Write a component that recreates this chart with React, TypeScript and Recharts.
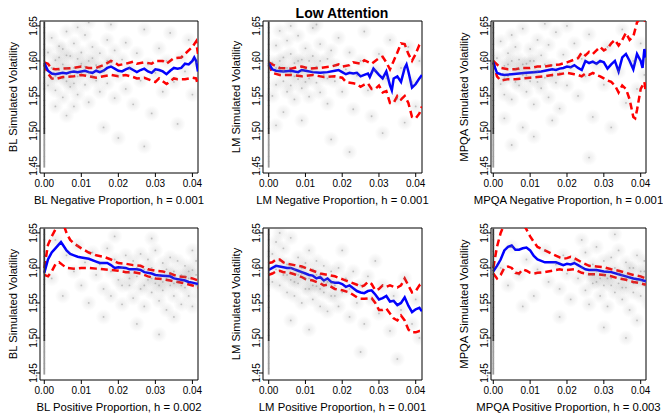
import React from 'react';
import {
  ComposedChart,
  Line,
  Scatter,
  XAxis,
  YAxis,
  ReferenceArea
} from 'recharts';

type Pt = [number, number];

const xTicks = [0, 0.01, 0.02, 0.03, 0.04];
const yTicks = [1.45, 1.5, 1.55, 1.6, 1.65];
const yDomain: [number, number] = [1.44, 1.657];

// points stacked at x = 0 (shown as a dark column)
const zeroDenseY = [1.5, 1.508, 1.516, 1.524, 1.532, 1.54, 1.548, 1.556, 1.564, 1.572, 1.58, 1.588, 1.596, 1.604, 1.612, 1.62, 1.628, 1.636, 1.644, 1.652];
const zeroSparseY = [1.452, 1.46, 1.468, 1.476, 1.484, 1.492];

// ---- scatter clouds ----
const blNegCloud: Pt[] = [
  [0.001, 1.612], [0.002, 1.575], [0.002, 1.633], [0.003, 1.558], [0.003, 1.601], [0.004, 1.587], [0.004, 1.621],
  [0.005, 1.548], [0.005, 1.595], [0.006, 1.571], [0.006, 1.642], [0.007, 1.607], [0.007, 1.563], [0.008, 1.59],
  [0.008, 1.625], [0.009, 1.552], [0.009, 1.578], [0.01, 1.612], [0.01, 1.596], [0.011, 1.566], [0.011, 1.637],
  [0.012, 1.583], [0.012, 1.541], [0.013, 1.604], [0.013, 1.62], [0.014, 1.572], [0.014, 1.594], [0.015, 1.556],
  [0.015, 1.611], [0.016, 1.585], [0.017, 1.63], [0.017, 1.568], [0.018, 1.598], [0.019, 1.547], [0.019, 1.615],
  [0.02, 1.579], [0.021, 1.602], [0.022, 1.56], [0.022, 1.626], [0.023, 1.59], [0.024, 1.538], [0.025, 1.611],
  [0.026, 1.572], [0.027, 1.645], [0.028, 1.595], [0.029, 1.525], [0.03, 1.583], [0.031, 1.618], [0.032, 1.556],
  [0.033, 1.6], [0.034, 1.64], [0.035, 1.57], [0.036, 1.51], [0.037, 1.605], [0.038, 1.585], [0.039, 1.63],
  [0.04, 1.552], [0.041, 1.598], [0.006, 1.522], [0.012, 1.655], [0.003, 1.535], [0.016, 1.505], [0.009, 1.648],
  [0.002, 1.59], [0.001, 1.565], [0.02, 1.49], [0.027, 1.478], [0.018, 1.652], [0.008, 1.535], [0.005, 1.617],
  [0.004, 1.605], [0.006, 1.59], [0.007, 1.582], [0.009, 1.603], [0.011, 1.592], [0.013, 1.578], [0.003, 1.578],
  [0.005, 1.575], [0.008, 1.568], [0.01, 1.583], [0.012, 1.6], [0.015, 1.59], [0.017, 1.6], [0.006, 1.608]
];
const lmNegCloud: Pt[] = [
  [0.001, 1.598], [0.001, 1.55], [0.002, 1.622], [0.002, 1.566], [0.003, 1.588], [0.003, 1.643], [0.004, 1.571],
  [0.004, 1.605], [0.005, 1.556], [0.005, 1.629], [0.006, 1.583], [0.006, 1.61], [0.007, 1.545], [0.007, 1.597],
  [0.008, 1.574], [0.008, 1.636], [0.009, 1.602], [0.009, 1.561], [0.01, 1.588], [0.01, 1.618], [0.011, 1.549],
  [0.011, 1.575], [0.012, 1.607], [0.012, 1.647], [0.013, 1.569], [0.013, 1.592], [0.014, 1.624], [0.014, 1.555],
  [0.015, 1.58], [0.016, 1.603], [0.016, 1.539], [0.017, 1.615], [0.018, 1.571], [0.018, 1.594], [0.019, 1.633],
  [0.02, 1.556], [0.021, 1.588], [0.022, 1.612], [0.023, 1.531], [0.024, 1.579], [0.025, 1.6], [0.026, 1.642],
  [0.027, 1.558], [0.028, 1.521], [0.029, 1.587], [0.03, 1.61], [0.031, 1.497], [0.032, 1.575], [0.033, 1.63],
  [0.035, 1.546], [0.036, 1.59], [0.037, 1.512], [0.038, 1.62], [0.039, 1.57], [0.04, 1.535], [0.041, 1.6],
  [0.004, 1.527], [0.009, 1.515], [0.013, 1.652], [0.002, 1.508], [0.017, 1.488], [0.006, 1.65], [0.022, 1.47],
  [0.003, 1.6], [0.005, 1.59], [0.007, 1.578], [0.008, 1.6], [0.01, 1.57], [0.011, 1.6], [0.004, 1.585],
  [0.006, 1.565], [0.009, 1.585], [0.012, 1.585], [0.014, 1.6], [0.016, 1.575], [0.002, 1.59]
];
const mpqaNegCloud: Pt[] = [
  [0.001, 1.604], [0.002, 1.567], [0.002, 1.628], [0.003, 1.552], [0.003, 1.593], [0.004, 1.611], [0.004, 1.578],
  [0.005, 1.637], [0.005, 1.545], [0.006, 1.589], [0.006, 1.62], [0.007, 1.565], [0.007, 1.602], [0.008, 1.58],
  [0.008, 1.646], [0.009, 1.556], [0.009, 1.596], [0.01, 1.617], [0.01, 1.571], [0.011, 1.538], [0.011, 1.6],
  [0.012, 1.585], [0.012, 1.63], [0.013, 1.561], [0.013, 1.608], [0.014, 1.576], [0.015, 1.623], [0.015, 1.548],
  [0.016, 1.594], [0.017, 1.569], [0.017, 1.641], [0.018, 1.583], [0.018, 1.532], [0.019, 1.609], [0.02, 1.565],
  [0.021, 1.59], [0.022, 1.625], [0.023, 1.55], [0.024, 1.603], [0.025, 1.578], [0.026, 1.638], [0.027, 1.52],
  [0.028, 1.595], [0.03, 1.566], [0.031, 1.62], [0.032, 1.505], [0.034, 1.585], [0.035, 1.645], [0.036, 1.54],
  [0.038, 1.6], [0.039, 1.56], [0.04, 1.625], [0.041, 1.58], [0.003, 1.518], [0.008, 1.505], [0.014, 1.653],
  [0.005, 1.48], [0.011, 1.492], [0.02, 1.65], [0.026, 1.462], [0.016, 1.515],
  [0.003, 1.575], [0.005, 1.6], [0.006, 1.57], [0.008, 1.595], [0.009, 1.58], [0.011, 1.585], [0.007, 1.588],
  [0.004, 1.595], [0.01, 1.6], [0.012, 1.57], [0.014, 1.595], [0.016, 1.578]
];
const blPosCloud: Pt[] = [
  [0.002, 1.585], [0.003, 1.64], [0.005, 1.56], [0.006, 1.618], [0.008, 1.595], [0.009, 1.632], [0.01, 1.575],
  [0.011, 1.608], [0.012, 1.55], [0.013, 1.622], [0.014, 1.59], [0.015, 1.605], [0.016, 1.57], [0.017, 1.628],
  [0.018, 1.595], [0.018, 1.56], [0.019, 1.612], [0.02, 1.583], [0.021, 1.6], [0.021, 1.548], [0.022, 1.618],
  [0.023, 1.575], [0.023, 1.593], [0.024, 1.61], [0.024, 1.557], [0.025, 1.588], [0.026, 1.62], [0.026, 1.57],
  [0.027, 1.598], [0.027, 1.545], [0.028, 1.583], [0.028, 1.612], [0.029, 1.565], [0.029, 1.6], [0.03, 1.578],
  [0.03, 1.625], [0.031, 1.553], [0.031, 1.59], [0.032, 1.607], [0.032, 1.568], [0.033, 1.585], [0.033, 1.54],
  [0.034, 1.615], [0.034, 1.575], [0.035, 1.595], [0.035, 1.56], [0.036, 1.58], [0.036, 1.61], [0.037, 1.548],
  [0.037, 1.59], [0.038, 1.572], [0.038, 1.603], [0.039, 1.56], [0.039, 1.585], [0.04, 1.597], [0.04, 1.545],
  [0.041, 1.575], [0.041, 1.61], [0.042, 1.56], [0.025, 1.52], [0.031, 1.505], [0.019, 1.645], [0.035, 1.53],
  [0.029, 1.642], [0.04, 1.625], [0.016, 1.53],
  [0.025, 1.6], [0.027, 1.575], [0.029, 1.585], [0.031, 1.575], [0.033, 1.598], [0.035, 1.578], [0.037, 1.575],
  [0.039, 1.595], [0.041, 1.59], [0.023, 1.585], [0.021, 1.575], [0.038, 1.588], [0.034, 1.59], [0.032, 1.58]
];
const lmPosCloud: Pt[] = [
  [0.001, 1.62], [0.001, 1.58], [0.002, 1.598], [0.002, 1.637], [0.003, 1.575], [0.003, 1.61], [0.004, 1.59],
  [0.004, 1.628], [0.005, 1.565], [0.005, 1.605], [0.006, 1.583], [0.006, 1.643], [0.007, 1.598], [0.007, 1.56],
  [0.008, 1.615], [0.008, 1.578], [0.009, 1.592], [0.009, 1.55], [0.01, 1.607], [0.01, 1.57], [0.011, 1.585],
  [0.011, 1.625], [0.012, 1.555], [0.012, 1.598], [0.013, 1.574], [0.013, 1.61], [0.014, 1.545], [0.014, 1.588],
  [0.015, 1.565], [0.015, 1.603], [0.016, 1.58], [0.016, 1.538], [0.017, 1.595], [0.017, 1.56], [0.018, 1.575],
  [0.019, 1.545], [0.019, 1.6], [0.02, 1.565], [0.021, 1.585], [0.022, 1.53], [0.022, 1.57], [0.023, 1.595],
  [0.024, 1.55], [0.025, 1.575], [0.026, 1.52], [0.027, 1.588], [0.028, 1.555], [0.03, 1.535], [0.031, 1.575],
  [0.033, 1.51], [0.034, 1.56], [0.036, 1.54], [0.037, 1.585], [0.039, 1.52], [0.04, 1.555], [0.041, 1.5],
  [0.003, 1.65], [0.006, 1.525], [0.011, 1.512], [0.02, 1.625], [0.025, 1.48], [0.029, 1.61], [0.035, 1.47],
  [0.005, 1.59], [0.007, 1.58], [0.009, 1.6], [0.011, 1.57], [0.013, 1.59], [0.015, 1.58], [0.017, 1.578],
  [0.006, 1.6], [0.008, 1.59], [0.01, 1.585], [0.012, 1.575], [0.014, 1.57], [0.018, 1.56]
];
const mpqaPosCloud: Pt[] = [
  [0.002, 1.6], [0.004, 1.575], [0.005, 1.63], [0.007, 1.59], [0.009, 1.612], [0.011, 1.56], [0.012, 1.598],
  [0.014, 1.625], [0.015, 1.58], [0.017, 1.605], [0.018, 1.57], [0.019, 1.618], [0.02, 1.592], [0.021, 1.555],
  [0.022, 1.61], [0.023, 1.585], [0.024, 1.6], [0.025, 1.568], [0.025, 1.622], [0.026, 1.59], [0.026, 1.548],
  [0.027, 1.605], [0.027, 1.578], [0.028, 1.595], [0.028, 1.63], [0.029, 1.56], [0.029, 1.585], [0.03, 1.61],
  [0.03, 1.575], [0.031, 1.596], [0.031, 1.545], [0.032, 1.585], [0.032, 1.615], [0.033, 1.565], [0.033, 1.6],
  [0.034, 1.578], [0.034, 1.625], [0.035, 1.59], [0.035, 1.555], [0.036, 1.608], [0.036, 1.572], [0.037, 1.588],
  [0.037, 1.54], [0.038, 1.6], [0.038, 1.565], [0.039, 1.582], [0.039, 1.618], [0.04, 1.56], [0.04, 1.595],
  [0.041, 1.575], [0.041, 1.61], [0.042, 1.585], [0.042, 1.55], [0.03, 1.515], [0.036, 1.5], [0.024, 1.64],
  [0.033, 1.648], [0.039, 1.525], [0.018, 1.53], [0.008, 1.545],
  [0.028, 1.58], [0.03, 1.59], [0.032, 1.575], [0.034, 1.592], [0.036, 1.585], [0.038, 1.578], [0.04, 1.582],
  [0.041, 1.595], [0.035, 1.572], [0.031, 1.585], [0.027, 1.59], [0.037, 1.6]
];

// ---- fitted lines (blue) and confidence bands (red dashed) ----
const blNegFit: Pt[] = [
  [0, 1.597], [0.001, 1.586], [0.002, 1.582], [0.003, 1.581], [0.004, 1.582], [0.005, 1.583], [0.006, 1.582],
  [0.007, 1.584], [0.008, 1.585], [0.009, 1.584], [0.01, 1.585], [0.011, 1.586], [0.012, 1.584], [0.013, 1.583],
  [0.014, 1.586], [0.015, 1.584], [0.016, 1.586], [0.017, 1.59], [0.018, 1.592], [0.019, 1.589], [0.02, 1.586],
  [0.021, 1.585], [0.022, 1.588], [0.023, 1.59], [0.024, 1.587], [0.025, 1.584], [0.026, 1.587], [0.027, 1.589],
  [0.028, 1.585], [0.029, 1.583], [0.03, 1.588], [0.031, 1.587], [0.032, 1.585], [0.033, 1.581], [0.034, 1.586],
  [0.035, 1.59], [0.036, 1.589], [0.037, 1.59], [0.038, 1.596], [0.039, 1.595], [0.04, 1.6], [0.0405, 1.605],
  [0.041, 1.6], [0.0415, 1.585]
];
const blNegUpper: Pt[] = [
  [0, 1.598], [0.001, 1.596], [0.002, 1.589], [0.003, 1.588], [0.005, 1.589], [0.008, 1.59], [0.01, 1.592],
  [0.012, 1.59], [0.014, 1.59], [0.016, 1.594], [0.018, 1.6], [0.019, 1.598], [0.02, 1.594], [0.022, 1.596],
  [0.024, 1.599], [0.025, 1.596], [0.027, 1.598], [0.029, 1.596], [0.03, 1.6], [0.032, 1.6], [0.033, 1.596],
  [0.035, 1.604], [0.037, 1.605], [0.038, 1.61], [0.04, 1.62], [0.041, 1.628], [0.0415, 1.61]
];
const blNegLower: Pt[] = [
  [0, 1.595], [0.001, 1.582], [0.002, 1.575], [0.003, 1.574], [0.005, 1.577], [0.008, 1.578], [0.01, 1.58],
  [0.012, 1.578], [0.014, 1.576], [0.016, 1.578], [0.018, 1.58], [0.02, 1.578], [0.022, 1.58], [0.024, 1.577],
  [0.025, 1.575], [0.027, 1.576], [0.029, 1.572], [0.03, 1.57], [0.031, 1.575], [0.033, 1.567], [0.034, 1.571],
  [0.035, 1.575], [0.036, 1.574], [0.038, 1.574], [0.04, 1.576], [0.041, 1.575], [0.0415, 1.565]
];

const lmNegFit: Pt[] = [
  [0, 1.597], [0.001, 1.588], [0.002, 1.586], [0.004, 1.585], [0.006, 1.586], [0.008, 1.584], [0.009, 1.587],
  [0.01, 1.586], [0.012, 1.584], [0.014, 1.583], [0.016, 1.584], [0.018, 1.586], [0.019, 1.587], [0.02, 1.584],
  [0.021, 1.581], [0.022, 1.583], [0.023, 1.582], [0.024, 1.583], [0.025, 1.578], [0.026, 1.58], [0.027, 1.582],
  [0.0275, 1.577], [0.0285, 1.589], [0.03, 1.58], [0.031, 1.575], [0.032, 1.585], [0.033, 1.565], [0.0335, 1.558],
  [0.034, 1.575], [0.035, 1.578], [0.036, 1.57], [0.037, 1.59], [0.0375, 1.595], [0.038, 1.585], [0.039, 1.562],
  [0.04, 1.567], [0.041, 1.575], [0.0417, 1.58]
];
const lmNegUpper: Pt[] = [
  [0, 1.598], [0.001, 1.595], [0.003, 1.59], [0.006, 1.589], [0.009, 1.592], [0.011, 1.589], [0.014, 1.59],
  [0.017, 1.592], [0.019, 1.595], [0.02, 1.592], [0.022, 1.594], [0.023, 1.598], [0.025, 1.596], [0.026, 1.601],
  [0.028, 1.596], [0.03, 1.604], [0.031, 1.606], [0.032, 1.598], [0.033, 1.588], [0.034, 1.6], [0.035, 1.612],
  [0.036, 1.625], [0.037, 1.624], [0.038, 1.61], [0.039, 1.6], [0.04, 1.61], [0.041, 1.623], [0.0417, 1.625]
];
const lmNegLower: Pt[] = [
  [0, 1.595], [0.001, 1.583], [0.003, 1.58], [0.006, 1.58], [0.009, 1.578], [0.012, 1.58], [0.015, 1.577],
  [0.018, 1.578], [0.02, 1.576], [0.021, 1.57], [0.023, 1.568], [0.024, 1.567], [0.025, 1.563], [0.026, 1.566],
  [0.027, 1.568], [0.028, 1.56], [0.029, 1.56], [0.03, 1.565], [0.031, 1.555], [0.032, 1.557], [0.033, 1.54],
  [0.034, 1.54], [0.035, 1.55], [0.036, 1.545], [0.037, 1.55], [0.038, 1.54], [0.039, 1.52], [0.04, 1.518],
  [0.041, 1.525], [0.0417, 1.535]
];

const mpqaNegFit: Pt[] = [
  [0, 1.598], [0.0005, 1.59], [0.001, 1.583], [0.002, 1.581], [0.003, 1.58], [0.005, 1.581], [0.007, 1.582],
  [0.009, 1.583], [0.011, 1.584], [0.013, 1.585], [0.015, 1.587], [0.016, 1.588], [0.017, 1.587], [0.018, 1.589],
  [0.019, 1.59], [0.02, 1.592], [0.021, 1.591], [0.022, 1.594], [0.023, 1.59], [0.024, 1.587], [0.025, 1.6],
  [0.026, 1.597], [0.027, 1.599], [0.028, 1.596], [0.029, 1.6], [0.03, 1.598], [0.031, 1.589], [0.032, 1.595],
  [0.033, 1.6], [0.034, 1.585], [0.035, 1.605], [0.036, 1.61], [0.037, 1.6], [0.038, 1.588], [0.039, 1.61],
  [0.04, 1.6], [0.0405, 1.59], [0.041, 1.617], [0.0414, 1.605]
];
const mpqaNegUpper: Pt[] = [
  [0, 1.6], [0.001, 1.595], [0.002, 1.59], [0.004, 1.588], [0.006, 1.588], [0.008, 1.59], [0.01, 1.59],
  [0.012, 1.592], [0.014, 1.592], [0.016, 1.594], [0.018, 1.595], [0.02, 1.598], [0.022, 1.602], [0.023, 1.604],
  [0.024, 1.612], [0.025, 1.608], [0.026, 1.613], [0.027, 1.61], [0.028, 1.615], [0.029, 1.62], [0.03, 1.615],
  [0.031, 1.618], [0.032, 1.625], [0.033, 1.63], [0.034, 1.622], [0.035, 1.63], [0.036, 1.64], [0.037, 1.63],
  [0.038, 1.635], [0.039, 1.655], [0.04, 1.662], [0.041, 1.658], [0.0414, 1.662]
];
const mpqaNegLower: Pt[] = [
  [0, 1.598], [0.001, 1.578], [0.002, 1.572], [0.004, 1.574], [0.006, 1.574], [0.008, 1.575], [0.01, 1.576],
  [0.012, 1.577], [0.014, 1.578], [0.016, 1.58], [0.018, 1.581], [0.02, 1.583], [0.022, 1.581], [0.023, 1.58],
  [0.024, 1.578], [0.025, 1.582], [0.026, 1.58], [0.027, 1.583], [0.028, 1.58], [0.029, 1.578], [0.03, 1.575],
  [0.031, 1.572], [0.032, 1.57], [0.033, 1.565], [0.034, 1.555], [0.035, 1.565], [0.036, 1.56], [0.037, 1.545],
  [0.038, 1.52], [0.0385, 1.518], [0.039, 1.53], [0.04, 1.56], [0.041, 1.57], [0.0414, 1.555]
];

const blPosFit: Pt[] = [
  [0, 1.593], [0.001, 1.612], [0.002, 1.622], [0.003, 1.628], [0.004, 1.634], [0.0045, 1.637], [0.005, 1.633],
  [0.006, 1.625], [0.007, 1.62], [0.008, 1.618], [0.009, 1.616], [0.01, 1.615], [0.012, 1.613], [0.014, 1.609],
  [0.015, 1.607], [0.017, 1.607], [0.018, 1.604], [0.019, 1.6], [0.02, 1.601], [0.022, 1.6], [0.023, 1.598],
  [0.025, 1.598], [0.026, 1.597], [0.027, 1.594], [0.029, 1.592], [0.03, 1.59], [0.032, 1.589], [0.034, 1.588],
  [0.035, 1.585], [0.036, 1.584], [0.037, 1.583], [0.038, 1.582], [0.039, 1.58], [0.04, 1.579], [0.0415, 1.577]
];
const blPosUpper: Pt[] = [
  [0, 1.6], [0.001, 1.633], [0.002, 1.645], [0.003, 1.655], [0.004, 1.66], [0.005, 1.665], [0.006, 1.65],
  [0.007, 1.64], [0.008, 1.635], [0.01, 1.628], [0.012, 1.622], [0.014, 1.618], [0.016, 1.616], [0.018, 1.612],
  [0.02, 1.607], [0.022, 1.606], [0.024, 1.604], [0.026, 1.603], [0.028, 1.598], [0.03, 1.596], [0.032, 1.595],
  [0.034, 1.592], [0.036, 1.588], [0.038, 1.587], [0.04, 1.585], [0.0415, 1.582]
];
const blPosLower: Pt[] = [
  [0, 1.59], [0.001, 1.588], [0.002, 1.595], [0.003, 1.605], [0.004, 1.608], [0.005, 1.604], [0.006, 1.6],
  [0.008, 1.599], [0.01, 1.6], [0.012, 1.6], [0.014, 1.599], [0.016, 1.598], [0.018, 1.597], [0.02, 1.596],
  [0.022, 1.594], [0.024, 1.594], [0.026, 1.592], [0.028, 1.588], [0.03, 1.585], [0.032, 1.584], [0.034, 1.582],
  [0.036, 1.58], [0.038, 1.578], [0.04, 1.575], [0.0415, 1.572]
];

const lmPosFit: Pt[] = [
  [0, 1.597], [0.001, 1.6], [0.002, 1.603], [0.003, 1.602], [0.004, 1.601], [0.005, 1.6], [0.006, 1.6],
  [0.007, 1.598], [0.008, 1.596], [0.009, 1.594], [0.01, 1.592], [0.011, 1.59], [0.012, 1.589], [0.013, 1.585],
  [0.014, 1.587], [0.015, 1.582], [0.016, 1.585], [0.017, 1.58], [0.018, 1.579], [0.019, 1.579], [0.02, 1.577],
  [0.021, 1.573], [0.022, 1.575], [0.023, 1.571], [0.024, 1.567], [0.025, 1.565], [0.026, 1.564], [0.027, 1.567],
  [0.028, 1.568], [0.029, 1.562], [0.03, 1.555], [0.031, 1.557], [0.032, 1.56], [0.033, 1.552], [0.034, 1.553],
  [0.035, 1.547], [0.036, 1.55], [0.037, 1.558], [0.038, 1.546], [0.039, 1.537], [0.04, 1.541], [0.041, 1.543],
  [0.0417, 1.538]
];
const lmPosUpper: Pt[] = [
  [0, 1.607], [0.001, 1.608], [0.002, 1.612], [0.003, 1.612], [0.004, 1.608], [0.005, 1.606], [0.007, 1.604],
  [0.009, 1.602], [0.01, 1.6], [0.012, 1.596], [0.014, 1.592], [0.016, 1.59], [0.018, 1.588], [0.02, 1.584],
  [0.022, 1.58], [0.024, 1.576], [0.025, 1.573], [0.026, 1.575], [0.027, 1.58], [0.028, 1.577], [0.029, 1.568],
  [0.03, 1.57], [0.031, 1.575], [0.032, 1.573], [0.033, 1.575], [0.034, 1.573], [0.035, 1.572], [0.036, 1.575],
  [0.037, 1.585], [0.038, 1.575], [0.039, 1.565], [0.04, 1.567], [0.041, 1.575], [0.0417, 1.57]
];
const lmPosLower: Pt[] = [
  [0, 1.59], [0.001, 1.592], [0.002, 1.595], [0.003, 1.596], [0.004, 1.594], [0.005, 1.594], [0.007, 1.591],
  [0.009, 1.587], [0.01, 1.584], [0.012, 1.582], [0.014, 1.578], [0.015, 1.575], [0.016, 1.576], [0.018, 1.57],
  [0.02, 1.568], [0.022, 1.565], [0.024, 1.558], [0.025, 1.556], [0.026, 1.556], [0.028, 1.557], [0.029, 1.55],
  [0.03, 1.54], [0.031, 1.54], [0.032, 1.542], [0.033, 1.535], [0.034, 1.528], [0.035, 1.525], [0.036, 1.532],
  [0.037, 1.525], [0.038, 1.512], [0.039, 1.508], [0.04, 1.508], [0.041, 1.51], [0.0417, 1.51]
];

const mpqaPosFit: Pt[] = [
  [0, 1.595], [0.001, 1.603], [0.002, 1.612], [0.003, 1.625], [0.004, 1.63], [0.005, 1.632], [0.006, 1.626],
  [0.007, 1.626], [0.008, 1.628], [0.009, 1.629], [0.01, 1.625], [0.011, 1.617], [0.012, 1.612], [0.013, 1.61],
  [0.014, 1.608], [0.016, 1.608], [0.017, 1.608], [0.018, 1.606], [0.019, 1.604], [0.02, 1.606], [0.021, 1.605],
  [0.022, 1.607], [0.023, 1.604], [0.024, 1.601], [0.025, 1.598], [0.026, 1.597], [0.028, 1.597], [0.03, 1.595],
  [0.032, 1.594], [0.034, 1.591], [0.036, 1.588], [0.038, 1.585], [0.04, 1.583], [0.0414, 1.581]
];
const mpqaPosUpper: Pt[] = [
  [0, 1.6], [0.001, 1.63], [0.002, 1.65], [0.003, 1.662], [0.004, 1.665], [0.006, 1.665], [0.008, 1.663],
  [0.009, 1.655], [0.01, 1.645], [0.011, 1.637], [0.012, 1.63], [0.014, 1.625], [0.016, 1.62], [0.018, 1.615],
  [0.019, 1.613], [0.02, 1.614], [0.021, 1.616], [0.022, 1.614], [0.024, 1.608], [0.026, 1.603], [0.028, 1.602],
  [0.03, 1.601], [0.032, 1.598], [0.034, 1.596], [0.036, 1.593], [0.038, 1.59], [0.04, 1.588], [0.0414, 1.585]
];
const mpqaPosLower: Pt[] = [
  [0, 1.592], [0.001, 1.585], [0.002, 1.59], [0.003, 1.6], [0.004, 1.602], [0.005, 1.6], [0.006, 1.593],
  [0.007, 1.592], [0.008, 1.598], [0.009, 1.596], [0.01, 1.593], [0.011, 1.592], [0.012, 1.593], [0.014, 1.594],
  [0.016, 1.596], [0.018, 1.598], [0.019, 1.597], [0.02, 1.597], [0.022, 1.598], [0.024, 1.593], [0.026, 1.591],
  [0.028, 1.591], [0.03, 1.59], [0.032, 1.588], [0.034, 1.585], [0.036, 1.583], [0.038, 1.58], [0.04, 1.578],
  [0.0414, 1.576]
];

const toObj = (pts: Pt[]) => pts.map(([x, y]) => ({ x, y }));
const FONT = '"Liberation Sans", Arial, Helvetica, sans-serif';

interface PanelCfg {
  left: number;
  top: number;
  width: number;
  height: number;
  mLeft: number;
  mRight: number;
  mTop: number;
  mBottom: number;
  xDomain: [number, number];
  xTitle: string;
  yTitle: string;
  cloud: Pt[];
  fit: Pt[];
  upper: Pt[];
  lower: Pt[];
}

const colX = [
  { left: 0, width: 221, mLeft: 40, mRight: 23, xDomain: [-0.00116, 0.04151] as [number, number] },
  { left: 221, width: 221, mLeft: 42, mRight: 20, xDomain: [-0.00155, 0.04171] as [number, number] },
  { left: 442, width: 221, mLeft: 49, mRight: 17, xDomain: [-0.00062, 0.04144] as [number, number] }
];
const rowY = [
  { top: 0, height: 206, mTop: 21, mBottom: 33 },
  { top: 206, height: 207, mTop: 22, mBottom: 33 }
];

const panels: PanelCfg[] = [
  { ...colX[0], ...rowY[0], xTitle: 'BL Negative Proportion, h = 0.001', yTitle: 'BL Simulated Volatility', cloud: blNegCloud, fit: blNegFit, upper: blNegUpper, lower: blNegLower },
  { ...colX[1], ...rowY[0], xTitle: 'LM Negative Proportion, h = 0.001', yTitle: 'LM Simulated Volatility', cloud: lmNegCloud, fit: lmNegFit, upper: lmNegUpper, lower: lmNegLower },
  { ...colX[2], ...rowY[0], xTitle: 'MPQA Negative Proportion, h = 0.001', yTitle: 'MPQA Simulated Volatility', cloud: mpqaNegCloud, fit: mpqaNegFit, upper: mpqaNegUpper, lower: mpqaNegLower },
  { ...colX[0], ...rowY[1], xTitle: 'BL Positive Proportion, h = 0.002', yTitle: 'BL Simulated Volatility', cloud: blPosCloud, fit: blPosFit, upper: blPosUpper, lower: blPosLower },
  { ...colX[1], ...rowY[1], xTitle: 'LM Positive Proportion, h = 0.001', yTitle: 'LM Simulated Volatility', cloud: lmPosCloud, fit: lmPosFit, upper: lmPosUpper, lower: lmPosLower },
  { ...colX[2], ...rowY[1], xTitle: 'MPQA Positive Proportion, h = 0.003', yTitle: 'MPQA Simulated Volatility', cloud: mpqaPosCloud, fit: mpqaPosFit, upper: mpqaPosUpper, lower: mpqaPosLower }
];

const YTick = (props: any) => {
  const { x, y, payload } = props;
  const bx = x + 3;
  return (
    <text x={bx} y={y} transform={`rotate(-90, ${bx}, ${y})`} textAnchor="middle" fontSize={10} fill="#000" fontFamily={FONT}>
      {Number(payload.value).toFixed(2)}
    </text>
  );
};

const XTick = (props: any) => {
  const { x, y, payload } = props;
  return (
    <text x={x} y={y + 8} textAnchor="middle" fontSize={10} fill="#000" fontFamily={FONT}>
      {Number(payload.value).toFixed(2)}
    </text>
  );
};

// each simulated point: a faint dot with a soft fading halo, so that
// overlapping points read as the grey haze of the original scatter
const dotShape = (p: any) => (
  <g>
    <defs>
      <radialGradient id="simHaze">
        <stop offset="0%" stopColor="#808080" stopOpacity={0.16} />
        <stop offset="100%" stopColor="#808080" stopOpacity={0} />
      </radialGradient>
    </defs>
    <circle cx={p.cx} cy={p.cy} r={8} fill="url(#simHaze)" />
    <circle cx={p.cx} cy={p.cy} r={0.9} fill="#777" fillOpacity={0.4} />
  </g>
);
const barShape = (color: string) => (p: any) => (
  <rect x={p.cx - 0.9} y={p.cy - 3} width={1.8} height={6} fill={color} />
);

function Panel({ cfg }: { cfg: PanelCfg }) {
  const zeroDense = zeroDenseY.map((y) => ({ x: 0, y }));
  const zeroSparse = zeroSparseY.map((y) => ({ x: 0, y }));
  const XTitle = (p: any) => {
    const vb = p.viewBox;
    return (
      <text x={vb.x + vb.width / 2} y={vb.y + 31} textAnchor="middle" fontSize={11.3} fill="#000" fontFamily={FONT}>
        {cfg.xTitle}
      </text>
    );
  };
  const YTitle = (p: any) => {
    const vb = p.viewBox;
    const cx = vb.x + vb.width - 23;
    const cy = vb.y + vb.height / 2;
    return (
      <text x={cx} y={cy} transform={`rotate(-90, ${cx}, ${cy})`} textAnchor="middle" fontSize={11.2} fill="#000" fontFamily={FONT}>
        {cfg.yTitle}
      </text>
    );
  };
  return (
    <div style={{ position: 'absolute', left: cfg.left, top: cfg.top }}>
      <ComposedChart
        width={cfg.width}
        height={cfg.height}
        margin={{ top: cfg.mTop, right: cfg.mRight, bottom: 0, left: 0 }}
      >
        <XAxis
          type="number"
          dataKey="x"
          domain={cfg.xDomain}
          ticks={xTicks}
          allowDataOverflow
          axisLine={false}
          tickSize={4}
          tickMargin={2}
          tickLine={{ stroke: '#000' }}
          tick={<XTick />}
          height={cfg.mBottom}
          interval={0}
          label={{ content: XTitle }}
        />
        <YAxis
          type="number"
          dataKey="y"
          domain={yDomain}
          ticks={yTicks}
          allowDataOverflow
          axisLine={false}
          tickSize={4}
          tickMargin={2}
          tickLine={{ stroke: '#000' }}
          tick={<YTick />}
          width={cfg.mLeft}
          interval={0}
          label={{ content: YTitle }}
        />
        <Scatter data={toObj(cfg.cloud)} dataKey="y" shape={dotShape} isAnimationActive={false} />
        <Scatter data={zeroSparse} dataKey="y" shape={barShape('#9a9a9a')} isAnimationActive={false} />
        <Scatter data={zeroDense} dataKey="y" shape={barShape('#333333')} isAnimationActive={false} />
        <Line data={toObj(cfg.upper)} dataKey="y" type="linear" stroke="#ff0000" strokeWidth={2.5} strokeDasharray="7 4" dot={false} activeDot={false} isAnimationActive={false} />
        <Line data={toObj(cfg.lower)} dataKey="y" type="linear" stroke="#ff0000" strokeWidth={2.5} strokeDasharray="7 4" dot={false} activeDot={false} isAnimationActive={false} />
        <Line data={toObj(cfg.fit)} dataKey="y" type="linear" stroke="#0000ff" strokeWidth={2.5} dot={false} activeDot={false} isAnimationActive={false} />
        <ReferenceArea
          x1={cfg.xDomain[0]}
          x2={cfg.xDomain[1]}
          y1={yDomain[0]}
          y2={yDomain[1]}
          fill="none"
          fillOpacity={0}
          stroke="#000"
          strokeWidth={1}
          ifOverflow="extendDomain"
        />
      </ComposedChart>
    </div>
  );
}

export default function App() {
  return (
    <div
      style={{
        position: 'absolute',
        left: 0,
        top: 0,
        width: 663,
        height: 413,
        background: '#fff',
        fontFamily: FONT,
        overflow: 'hidden'
      }}
    >
      {panels.map((cfg, i) => (
        <Panel key={i} cfg={cfg} />
      ))}
      <div
        style={{
          position: 'absolute',
          left: 242,
          width: 200,
          top: 5,
          textAlign: 'center',
          fontWeight: 'bold',
          fontSize: 14,
          lineHeight: '16px'
        }}
      >
        Low Attention
      </div>
    </div>
  );
}
